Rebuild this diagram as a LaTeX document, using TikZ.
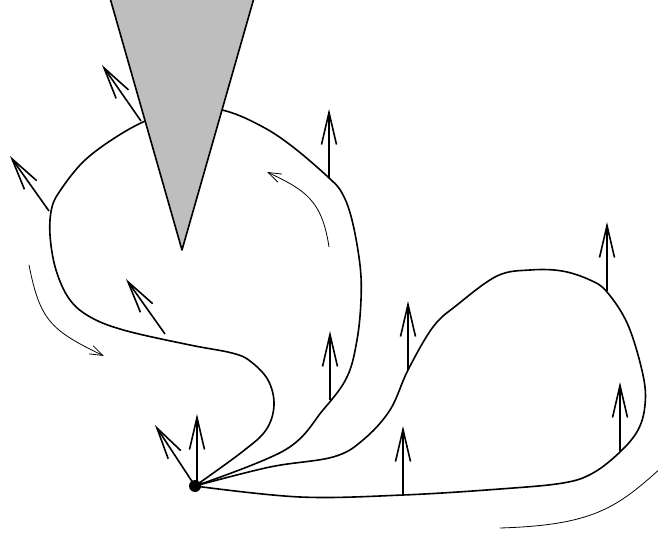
\documentclass[tikz,border=0pt]{standalone}
\usetikzlibrary{arrows.meta}
\definecolor{wedgegray}{RGB}{190,190,190}
\begin{document}
\begin{tikzpicture}[x=1pt,y=-1pt,
  curve/.style={line width=1.6pt, line join=round, line cap=round},
  normalvec/.style={line width=1.6pt, -{Straight Barb[length=32pt,width=15pt,line width=1.6pt]}},
  flowarrow/.style={line width=0.8pt, -{Straight Barb[length=13pt,width=9pt,line width=0.8pt]}}]
\useasboundingbox (0,0) rectangle (658,534);
\clip (0,0) rectangle (658,534);
\coordinate (O) at (195,486);
% loop A (left loop through wedge)
\draw[curve] plot[smooth, tension=0.6] coordinates {
  (O) (242,452) (266,430) (274,405) (268,380) (250,361) (232,353)
  (190,345) (127,331) (92,318) (70,300) (56,270) (50,235) (52,207) (62,188)
  (83,162) (110,141) (143,122) (185,106) (226,111) (263,127) (293,147)
  (328,177) (342,193) (352,220) (360,265) (361,300) (357,340) (347,377)
  (323,410) (285,450) (O)};
% loop B (right loop)
\draw[curve] plot[smooth, tension=0.6] coordinates {
  (O) (270,467) (333,457) (363,440) (390,410) (408,370) (433,327) (457,305)
  (497,276) (530,270) (562,271) (590,280) (607,292) (628,325) (643,375)
  (645,405) (638,430) (620,452) (593,473) (563,483) (500,489) (403,495)
  (300,497) (O)};
% wedge
\fill[wedgegray] (110,-2) -- (182,250) -- (254,-2) -- cycle;
\draw[curve] (110,-2) -- (182,250) -- (254,-2);
% normal vectors
\draw[normalvec] (141,121) -- (102,65);
\draw[normalvec] (49,211) -- (10,156);
\draw[normalvec] (165,334) -- (126,279);
\draw[normalvec] (O) -- (155,425);
\draw[normalvec] (197,484) -- (197,414);
\draw[normalvec] (329,178) -- (329,109);
\draw[normalvec] (330,400) -- (330,331);
\draw[normalvec] (408,370) -- (408,301);
\draw[normalvec] (403,495) -- (403,426);
\draw[normalvec] (607,291) -- (607,222);
\draw[normalvec] (620,451) -- (620,382);
% flow arrows
\draw[flowarrow] (29,265) .. controls (40,320) and (50,330) .. (104,356);
\draw[flowarrow] (329,247) .. controls (322,200) and (305,190) .. (267,172);
\draw[flowarrow] (500,528) .. controls (600,525) and (620,505) .. (672,458);
% dot
\fill (O) circle (6pt);
\end{tikzpicture}
\end{document}
